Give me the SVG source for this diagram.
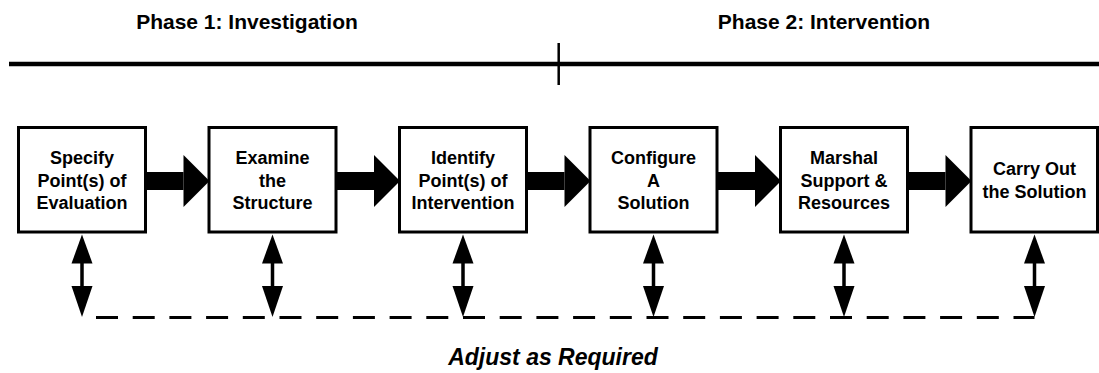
<svg xmlns="http://www.w3.org/2000/svg" width="1099" height="373" viewBox="0 0 1099 373">
  <style>
    .phase { font-family: "Liberation Sans", Arial, sans-serif; font-weight: bold; font-size: 21px; fill: #000; text-anchor: middle; }
    .label { font-family: "Liberation Sans", Arial, sans-serif; font-weight: bold; font-size: 18px; fill: #000; text-anchor: middle; }
    .note { font-family: "Liberation Sans", Arial, sans-serif; font-weight: bold; font-style: italic; font-size: 23px; fill: #000; text-anchor: middle; }
    .box { fill: #fff; stroke: #000; stroke-width: 3; }
    .fill { fill: #000; stroke: none; }
  </style>
  <defs>
    <!-- thick block arrow between adjacent steps (origin at source box right edge, y at centre) -->
    <g id="blockArrow">
      <rect class="fill" x="0" y="-9" width="38" height="18"/>
      <polygon class="fill" points="38,-26 64,0 38,26"/>
    </g>
    <!-- double-headed link from a step down to the feedback line (origin at box centre, bottom) -->
    <g id="adjustLink">
      <polygon class="fill" points="0,2.5 -10.5,31.5 10.5,31.5"/>
      <rect class="fill" x="-1.75" y="31" width="3.5" height="24"/>
      <polygon class="fill" points="-10.5,54 10.5,54 0,85"/>
    </g>
  </defs>

  <!-- phase timeline -->
  <g id="timeline">
    <text class="phase" x="247" y="29">Phase 1: Investigation</text>
    <text class="phase" x="824" y="29">Phase 2: Intervention</text>
    <line x1="9" y1="64" x2="1099" y2="64" stroke="#000" stroke-width="4.5"/>
    <line x1="558.7" y1="43" x2="558.7" y2="85" stroke="#000" stroke-width="2.5"/>
  </g>

  <!-- connectors -->
  <g id="connectors">
    <use href="#blockArrow" x="145.5" y="181"/>
    <use href="#blockArrow" x="336" y="181"/>
    <use href="#blockArrow" x="526.5" y="181"/>
    <use href="#blockArrow" x="717" y="181"/>
    <use href="#blockArrow" x="907.5" y="181"/>

    <use href="#adjustLink" x="82" y="232"/>
    <use href="#adjustLink" x="272.5" y="232"/>
    <use href="#adjustLink" x="463" y="232"/>
    <use href="#adjustLink" x="653.5" y="232"/>
    <use href="#adjustLink" x="844" y="232"/>
    <use href="#adjustLink" x="1034.5" y="232"/>

    <line x1="96" y1="317.5" x2="1034.5" y2="317.5" stroke="#000" stroke-width="3" stroke-dasharray="22 14.7"/>
  </g>

  <!-- process steps -->
  <g id="step1">
    <rect class="box" x="18.5" y="127.5" width="127" height="104.5"/>
    <text class="label" x="82" y="164">Specify</text>
    <text class="label" x="82" y="186.5">Point(s) of</text>
    <text class="label" x="82" y="209">Evaluation</text>
  </g>
  <g id="step2">
    <rect class="box" x="209" y="127.5" width="127" height="104.5"/>
    <text class="label" x="272.5" y="164">Examine</text>
    <text class="label" x="272.5" y="186.5">the</text>
    <text class="label" x="272.5" y="209">Structure</text>
  </g>
  <g id="step3">
    <rect class="box" x="399.5" y="127.5" width="127" height="104.5"/>
    <text class="label" x="463" y="164">Identify</text>
    <text class="label" x="463" y="186.5">Point(s) of</text>
    <text class="label" x="463" y="209">Intervention</text>
  </g>
  <g id="step4">
    <rect class="box" x="590" y="127.5" width="127" height="104.5"/>
    <text class="label" x="653.5" y="164">Configure</text>
    <text class="label" x="653.5" y="186.5">A</text>
    <text class="label" x="653.5" y="209">Solution</text>
  </g>
  <g id="step5">
    <rect class="box" x="780.5" y="127.5" width="127" height="104.5"/>
    <text class="label" x="844" y="164">Marshal</text>
    <text class="label" x="844" y="186.5">Support &amp;</text>
    <text class="label" x="844" y="209">Resources</text>
  </g>
  <g id="step6">
    <rect class="box" x="971" y="127.5" width="126.5" height="104.5"/>
    <text class="label" x="1034.5" y="175">Carry Out</text>
    <text class="label" x="1034.5" y="197.5">the Solution</text>
  </g>

  <!-- feedback caption -->
  <g id="caption">
    <text class="note" x="553" y="365">Adjust as Required</text>
  </g>
</svg>
